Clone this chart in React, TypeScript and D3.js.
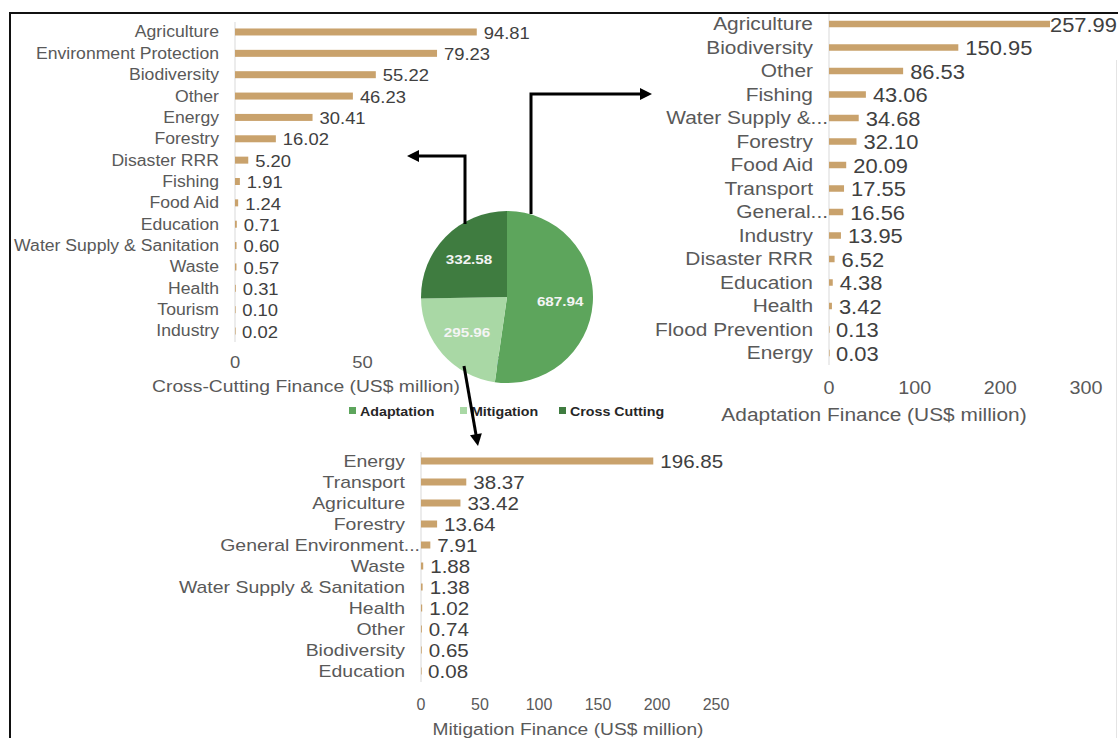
import React from "react";
import * as d3 from "d3";

const crossCats = ["Agriculture","Environment Protection","Biodiversity","Other","Energy","Forestry","Disaster RRR","Fishing","Food Aid","Education","Water Supply & Sanitation","Waste","Health","Tourism","Industry"];
const crossVals = [94.81,79.23,55.22,46.23,30.41,16.02,5.20,1.91,1.24,0.71,0.60,0.57,0.31,0.10,0.02];
const crossTicks = [0, 50, 100];

const adaptCats = ["Agriculture","Biodiversity","Other","Fishing","Water Supply &...","Forestry","Food Aid","Transport","General...","Industry","Disaster RRR","Education","Health","Flood Prevention","Energy"];
const adaptVals = [257.99,150.95,86.53,43.06,34.68,32.10,20.09,17.55,16.56,13.95,6.52,4.38,3.42,0.13,0.03];
const adaptTicks = [0, 100, 200, 300];

const mitCats = ["Energy","Transport","Agriculture","Forestry","General Environment...","Waste","Water Supply & Sanitation","Health","Other","Biodiversity","Education"];
const mitVals = [196.85,38.37,33.42,13.64,7.91,1.88,1.38,1.02,0.74,0.65,0.08];
const mitTicks = [0, 50, 100, 150, 200, 250];

const pieCats = ["Adaptation","Mitigation","Cross Cutting"];
const pieVals = [687.94,295.96,332.58];
const pieColors = ["#5DA55C","#A9D8A5","#3F7C40"];

const FONT = "'Liberation Sans', Arial, sans-serif";
const BAR = "#C9A26C";
const LABEL = "#595959";
const VALUE = "#404040";

type TP = { x: number; y: number; size: number; anchor?: string; fill?: string; weight?: any; sx?: number; children: any };
const T = ({ x, y, size, anchor = "start", fill = LABEL, weight = "normal", sx = 1.13, children }: TP) => (
  <text transform={`translate(${x},${y}) scale(${sx},1)`} fontSize={size} textAnchor={anchor as any}
    fill={fill} fontWeight={weight} dy="0.35em" fontFamily={FONT}>{children}</text>
);

type PanelProps = {
  cats: string[]; vals: number[]; ticks: number[];
  xr: [number, number]; yr: [number, number];
  labelSize: number; valSize: number; tickSize: number; tickSx: number; tickY: number;
  title: string; titleX: number; titleY: number; titleSize: number;
  axisY: [number, number]; barH: number; rightLimit: number;
};

const Panel = (p: PanelProps) => {
  const x = d3.scaleLinear().domain([0, p.ticks[p.ticks.length - 1]]).range(p.xr);
  const y = d3.scalePoint<string>().domain(p.cats).range(p.yr).padding(0.5);
  const x0 = x(0);
  return (
    <g>
      <line x1={x0} x2={x0} y1={p.axisY[0]} y2={p.axisY[1]} stroke="#D9D9D9" strokeWidth={1} />
      {p.cats.map((c, i) => {
        const cy = y(c)!;
        const end = x(p.vals[i]);
        const txt = p.vals[i].toFixed(2);
        const w = (txt.length - 1) * 0.556 * p.valSize * 1.13 + 0.278 * p.valSize * 1.13;
        let vx = end + 7;
        let anchor = "start";
        if (vx + w > p.rightLimit) { vx = p.rightLimit; anchor = "end"; }
        const trunc = c.endsWith("...");
        return (
          <g key={c + i}>
            <rect x={x0} y={cy - p.barH / 2} width={Math.max(end - x0, 0.6)} height={p.barH} fill={BAR} />
            <T x={trunc ? x0 - 1 : x0 - 16} y={cy} size={p.labelSize} anchor="end">{c}</T>
            <T x={vx} y={cy + 1} size={p.valSize} anchor={anchor} fill={VALUE}>{txt}</T>
          </g>
        );
      })}
      {p.ticks.map((t) => (
        <T key={t} x={x(t)} y={p.tickY} size={p.tickSize} sx={p.tickSx} anchor="middle" fill={LABEL}>{t}</T>
      ))}
      <T x={p.titleX} y={p.titleY} size={p.titleSize} anchor="middle" fill={LABEL}>{p.title}</T>
    </g>
  );
};

const Arrow = ({ pts }: { pts: [number, number][] }) => {
  const line = d3.line();
  const [ax, ay] = pts[pts.length - 2];
  const [bx, by] = pts[pts.length - 1];
  const ang = Math.atan2(by - ay, bx - ax);
  const L = 12, W = 6;
  const ux = Math.cos(ang), uy = Math.sin(ang);
  const baseX = bx - ux * L, baseY = by - uy * L;
  const shaft = pts.slice(0, -1).concat([[baseX + ux * 1, baseY + uy * 1]]) as [number, number][];
  const head = `${bx},${by} ${baseX - uy * W},${baseY + ux * W} ${baseX + uy * W},${baseY - ux * W}`;
  return (
    <g>
      <path d={line(shaft)!} fill="none" stroke="#000" strokeWidth={3} strokeLinejoin="miter" />
      <polygon points={head} fill="#000" />
    </g>
  );
};

export default function App() {
  const pieGen = d3.pie<number>().sort(null);
  const arcs = pieGen(pieVals);
  const R = 86;
  const arc = d3.arc<d3.PieArcDatum<number>>().innerRadius(0).outerRadius(R);
  const labelArc = d3.arc<d3.PieArcDatum<number>>().innerRadius(R * 0.62).outerRadius(R * 0.62);
  const pcx = 507, pcy = 297;

  const legendX = [349, 460, 559];

  return (
    <svg width={1118} height={738} style={{ position: "fixed", left: 0, top: 0, background: "#fff" }} fontFamily={FONT}>
      <rect x={0} y={0} width={1118} height={738} fill="#fff" />
      <line x1={9} x2={1118} y1={13} y2={13} stroke="#111" strokeWidth={2} />
      <line x1={10} x2={10} y1={12} y2={738} stroke="#111" strokeWidth={2} />
      <line x1={1116.5} x2={1116.5} y1={60} y2={738} stroke="#E4E4E4" strokeWidth={1} />

      <Panel cats={crossCats} vals={crossVals} ticks={crossTicks}
        xr={[235, 490]} yr={[21.3, 341.7]} labelSize={15.6} valSize={16.3} tickSize={16.3} tickSx={1.13} tickY={362}
        title="Cross-Cutting Finance (US$ million)" titleX={306} titleY={386} titleSize={17.1}
        axisY={[22, 342]} barH={7} rightLimit={1117} />

      <Panel cats={adaptCats} vals={adaptVals} ticks={adaptTicks}
        xr={[829, 1086]} yr={[12.25, 364.75]} labelSize={18.5} valSize={19.4} tickSize={17.5} tickSx={1.13} tickY={388}
        title="Adaptation Finance (US$ million)" titleX={874} titleY={415} titleSize={18.5}
        axisY={[14, 365]} barH={6.5} rightLimit={1117} />

      <Panel cats={mitCats} vals={mitVals} ticks={mitTicks}
        xr={[421, 716]} yr={[450.5, 681.5]} labelSize={17.2} valSize={18.2} tickSize={16} tickSx={1.0} tickY={704}
        title="Mitigation Finance (US$ million)" titleX={568} titleY={729} titleSize={17}
        axisY={[452, 682]} barH={7} rightLimit={1117} />

      <g transform={`translate(${pcx},${pcy})`}>
        {arcs.map((a, i) => (
          <path key={pieCats[i]} d={arc(a)!} fill={pieColors[i]} />
        ))}
        {arcs.map((a, i) => {
          const [lx, ly] = labelArc.centroid(a);
          return (
            <T key={"l" + i} x={lx} y={ly} size={13.5} anchor="middle" fill="#F4F4F4" weight="bold">
              {pieVals[i].toFixed(2)}
            </T>
          );
        })}
      </g>

      {pieCats.map((c, i) => (
        <g key={c}>
          <rect x={legendX[i]} y={407} width={7} height={7} fill={pieColors[i]} />
          <T x={legendX[i] + 11} y={411} size={13.2} fill="#262626" weight="bold" sx={1.08}>{c}</T>
        </g>
      ))}

      <Arrow pts={[[465, 224], [465, 156], [407, 156]]} />
      <Arrow pts={[[531, 214], [531, 94], [652, 94]]} />
      <Arrow pts={[[464, 366], [478, 446]]} />
    </svg>
  );
}
